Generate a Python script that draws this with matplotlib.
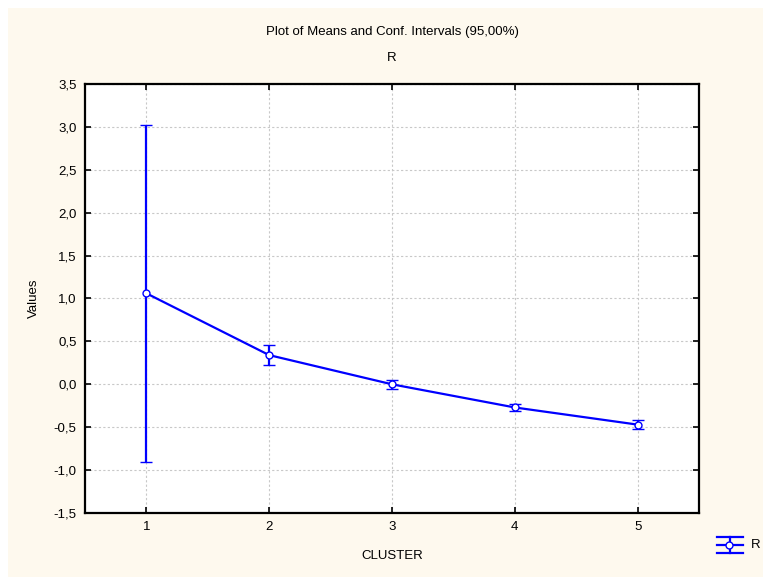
import matplotlib.pyplot as plt
import matplotlib.ticker as mticker
from matplotlib.patches import Rectangle
from matplotlib.lines import Line2D

# data
clusters = [1, 2, 3, 4, 5]
means = [1.06, 0.34, 0.00, -0.27, -0.47]
ci_low = [-0.90, 0.22, -0.05, -0.31, -0.52]
ci_high = [3.02, 0.46, 0.05, -0.23, -0.42]

yerr = [[m - lo for m, lo in zip(means, ci_low)],
        [hi - m for m, hi in zip(means, ci_high)]]

plt.rcParams['font.family'] = ['Liberation Sans', 'DejaVu Sans']
plt.rcParams['font.size'] = 9.5

W, H = 763, 577
fig = plt.figure(figsize=(W / 100, H / 100), dpi=100, facecolor='white')
# cream background panel with thin white margin top/left
fig.patches.append(Rectangle((8 / W, 0), 1, 1 - 8 / H, transform=fig.transFigure,
                             facecolor='#fef9ee', edgecolor='none', zorder=-10))

ax = fig.add_axes([85 / W, 64 / H, 614 / W, 429 / H])
ax.set_facecolor('white')

blue = '#0000ff'
ax.errorbar(clusters, means, yerr=yerr, color=blue, lw=1.6,
            elinewidth=1.6, capsize=4.5, capthick=2.0,
            marker='o', markersize=5, markerfacecolor='white',
            markeredgecolor=blue, markeredgewidth=1.0)

ax.set_xlim(0.5, 5.5)
ax.set_ylim(-1.5, 3.5)
ax.set_xticks(clusters)
ax.set_yticks([-1.5 + 0.5 * i for i in range(11)])
ax.yaxis.set_major_formatter(mticker.FuncFormatter(lambda v, p: f"{v:.1f}".replace('.', ',')))

ax.grid(True, color='#c8c8c8', linestyle=(0, (2, 2)), linewidth=0.8)
ax.set_axisbelow(True)
ax.tick_params(direction='in', length=4, width=1.2, top=True, right=True, pad=6)
for s in ax.spines.values():
    s.set_linewidth(1.6)
    s.set_color('black')

ax.set_xlabel('CLUSTER', labelpad=12)
ax.set_ylabel('Values', labelpad=10)

fig.text(0.5 * (85 + 699) / W, 1 - 32 / H, 'Plot of Means and Conf. Intervals (95,00%)',
         ha='center', va='center')
fig.text(0.5 * (85 + 699) / W, 1 - 58 / H, 'R', ha='center', va='center')

# legend symbol like the original: caps + middle line + circle
def fx(px):
    return px / W

def fy(py):
    return 1 - py / H

for yy in (537, 545, 553):
    fig.add_artist(Line2D([fx(717), fx(743)], [fy(yy), fy(yy)], color=blue, lw=1.6,
                          transform=fig.transFigure))
fig.add_artist(Line2D([fx(730), fx(730)], [fy(537), fy(553)], color=blue, lw=1.6,
                      transform=fig.transFigure))
fig.add_artist(Line2D([fx(729)], [fy(545)], marker='o', markersize=5, markerfacecolor='white',
                      markeredgecolor=blue, markeredgewidth=1.0, transform=fig.transFigure))
fig.text(fx(751), fy(545), 'R', ha='left', va='center')

fig.savefig('out.png', dpi=100, facecolor=fig.get_facecolor())
